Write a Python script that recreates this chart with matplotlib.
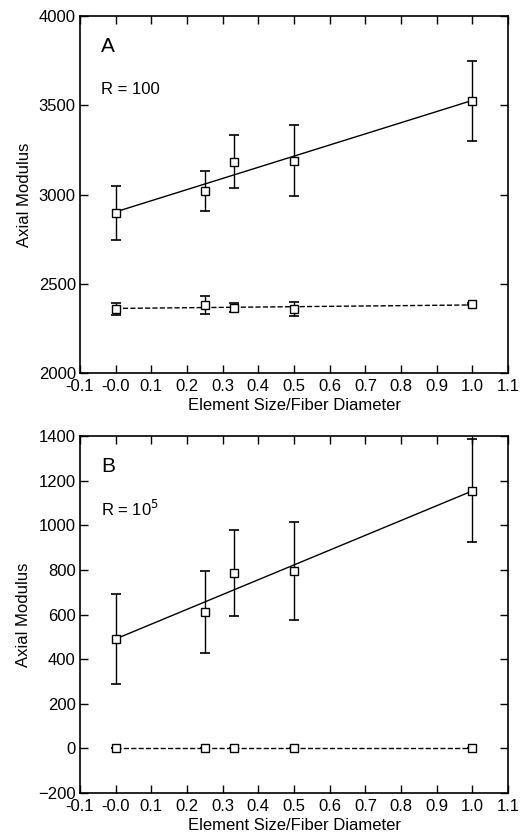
import matplotlib.pyplot as plt
import numpy as np

plt.rcParams['font.family'] = ['Liberation Sans', 'DejaVu Sans']

# element size / fiber diameter
x = [0.0, 0.25, 0.333, 0.5, 1.0]

# panel A, R = 100
a_solid = [2895, 3020, 3185, 3190, 3525]
a_solid_err = [150, 110, 150, 200, 225]
a_dash = [2360, 2380, 2365, 2360, 2385]
a_dash_err = [35, 50, 25, 40, 5]

# panel B, R = 1e5
b_solid = [490, 610, 785, 795, 1155]
b_solid_err = [203, 183, 193, 218, 232]
b_dash = [0, 0, 0, 0, 0]
b_dash_err = [0, 0, 0, 0, 0]

xticks = [-0.1, 0.0, 0.1, 0.2, 0.3, 0.4, 0.5, 0.6, 0.7, 0.8, 0.9, 1.0, 1.1]
xticklabels = ["-0.1", "-0.0", "0.1", "0.2", "0.3", "0.4", "0.5",
               "0.6", "0.7", "0.8", "0.9", "1.0", "1.1"]


def panel(ax, ys, yerr, yd, yderr, ylim, yticks, letter, rlabel):
    xs = np.array(x)
    for y, e, ls in [(ys, yerr, "-"), (yd, yderr, "--")]:
        ax.errorbar(xs, y, yerr=e, fmt="none", ecolor="black", elinewidth=1,
                    capsize=3.3, capthick=1.2, zorder=2)
        k, b = np.polyfit(xs, y, 1)
        xl = np.array([xs.min(), xs.max()])
        ax.plot(xl, k * xl + b, ls=ls, color="black", lw=1, zorder=3)
        ax.plot(xs, y, "s", ms=6.3, mfc="white", mec="black", mew=1, zorder=4)
    ax.set_xlim(-0.1, 1.1)
    ax.set_ylim(*ylim)
    ax.set_xticks(xticks)
    ax.set_xticklabels(xticklabels)
    ax.set_yticks(yticks)
    ax.tick_params(direction="in", top=True, right=True, length=6,
                   width=1, labelsize=12)
    ax.tick_params(axis="x", pad=4)
    ax.tick_params(axis="y", pad=3)
    for s in ax.spines.values():
        s.set_linewidth(1.2)
    ax.set_xlabel("Element Size/Fiber Diameter", fontsize=12, labelpad=3)
    ax.set_ylabel("Axial Modulus", fontsize=12, labelpad=5)
    ax.text(0.05, 0.94, letter, transform=ax.transAxes, fontsize=15,
            va="top", ha="left")
    ax.text(0.05, 0.795, rlabel, transform=ax.transAxes, fontsize=12,
            va="center", ha="left")


fig = plt.figure(figsize=(5.26, 8.39), dpi=100)
ax1 = fig.add_axes([0.152, 0.5554, 0.814, 0.4255])
ax2 = fig.add_axes([0.152, 0.0548, 0.814, 0.4255])

panel(ax1, a_solid, a_solid_err, a_dash, a_dash_err, (2000, 4000),
      [2000, 2500, 3000, 3500, 4000], "A", "R = 100")
panel(ax2, b_solid, b_solid_err, b_dash, b_dash_err, (-200, 1400),
      list(range(-200, 1401, 200)), "B", r"R = 10$^{5}$")

fig.savefig("out.png", dpi=100)
